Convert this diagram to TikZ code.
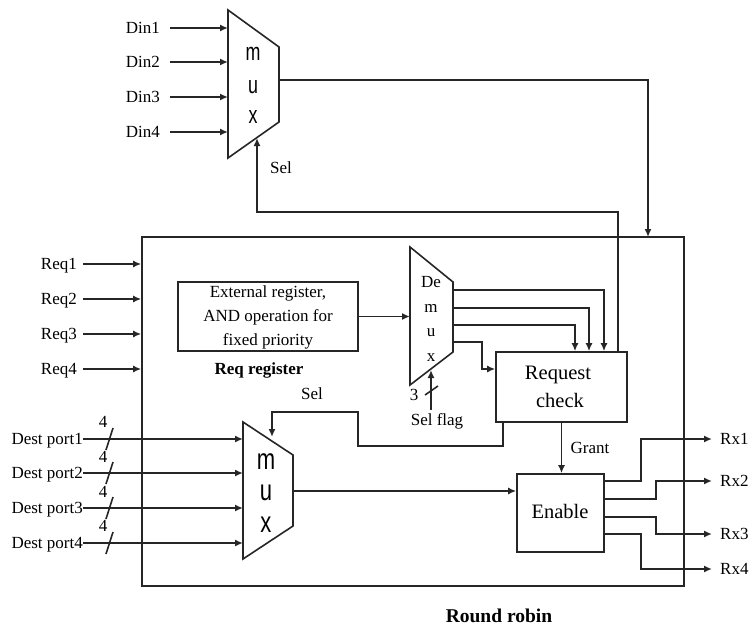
\documentclass[tikz,border=0pt]{standalone}
\usepackage{fontspec}
\setmainfont{Liberation Serif}
\newfontfamily\arialf{Liberation Sans}
\usetikzlibrary{arrows.meta,calc}
\begin{document}
\begin{tikzpicture}[x=1pt,y=-1pt,
  wire/.style={draw=black!85, line width=1.6pt},
  arr/.style={wire,-{Latex[length=8pt,width=7pt]}},
  lbl/.style={font=\fontsize{17}{18}\selectfont, inner sep=0pt, text height=11pt, text depth=0pt},
  txt/.style={font=\fontsize{17}{18}\selectfont, inner sep=0pt, anchor=base},
  boldtxt/.style={font=\fontsize{17}{18}\selectfont\bfseries, inner sep=0pt, anchor=base},
  blk/.style={draw=black!85, line width=1.6pt, inner sep=0pt},
  muxshape/.style={draw=black!85, line width=1.6pt, line join=miter},
  muxletter/.style={inner sep=0pt, anchor=base}]
\useasboundingbox (0,0) rectangle (750,626);

% ---------- top mux ----------
\coordinate (tmA) at (228,10);
\coordinate (tmB) at (279,47);
\coordinate (tmC) at (279,122);
\coordinate (tmD) at (228,158);
\draw[muxshape] (tmA) -- (tmB) -- (tmC) -- (tmD) -- cycle;
\node[muxletter] (tmm) at (253,61) {\scalebox{1.05}[1.45]{\fontsize{17}{18}\arialf m}};
\node[muxletter] (tmu) at (253,93) {\scalebox{1.05}[1.45]{\fontsize{17}{18}\arialf u}};
\node[muxletter] (tmx) at (253,123) {\scalebox{1.05}[1.45]{\fontsize{17}{18}\arialf x}};
\coordinate (tmsel) at (257,138);
\coordinate (tmout) at (279,80);

\foreach \i/\y in {1/28,2/62,3/97,4/132}{
  \node[lbl, anchor=east] (din\i) at (160,\y) {Din\i};
  \draw[arr] ([xshift=10pt]din\i.east) -- (din\i.east -| tmA);
}
\node[txt] (sel1) at (281,173) {Sel};

% ---------- outer round robin box ----------
\node[blk, minimum width=542pt, minimum height=349pt] (rr) at (413,411.5) {};
\coordinate (rrin) at (648,237);
\draw[arr] (tmout) -| (rrin);

\foreach \i/\y in {1/264,2/299,3/334,4/369}{
  \node[lbl, anchor=east] (req\i) at (77,\y) {Req\i};
  \draw[arr] ([xshift=6pt]req\i.east) -- (req\i.east -| rr.west);
}

% ---------- external register ----------
\node[blk, minimum width=180pt, minimum height=69pt] (ext) at (268,316.5) {};
\node[txt] (ext1) at (268,297) {External register,};
\node[txt] (ext2) at (268,321) {AND operation for};
\node[txt] (ext3) at (268,345) {fixed priority};
\node[boldtxt] (reqreg) at (259,374) {Req register};

% ---------- demux ----------
\coordinate (dmA) at (410,247);
\coordinate (dmB) at (453,282);
\coordinate (dmC) at (453,352);
\coordinate (dmD) at (410,385);
\draw[muxshape] (dmA) -- (dmB) -- (dmC) -- (dmD) -- cycle;
\node[txt] (dmde) at (431,287) {De};
\node[txt] (dmm) at (431,312) {m};
\node[txt] (dmu) at (431,336) {u};
\node[txt] (dmx) at (431,361) {x};
\draw[arr] (ext.east) -- (ext.east -| dmA);

% ---------- request check ----------
\node[blk, minimum width=131pt, minimum height=70pt] (rc) at (561.5,387) {};
\node[font=\fontsize{20.5}{22}\selectfont, inner sep=0pt, anchor=base] (rct1) at (558,379) {Request};
\node[font=\fontsize{20.5}{22}\selectfont, inner sep=0pt, anchor=base] (rct2) at (560,407) {check};

\coordinate (do1) at (453,290);
\coordinate (do2) at (453,308);
\coordinate (do3) at (453,325);
\coordinate (do4) at (453,342);
\draw[arr] (do1) -| ([xshift=42.5pt]rc.north);
\draw[arr] (do2) -| ([xshift=27.5pt]rc.north);
\draw[arr] (do3) -| ([xshift=13.5pt]rc.north);
\draw[arr] (do4) -- (482,342) |- ([yshift=18pt]rc.west);

% sel flag
\coordinate (dmsel) at (431,370);
\coordinate (sfbot) at (431,410);
\draw[arr] (sfbot) -- (dmsel);
\draw[wire] (438,386) -- (425,395);
\node[txt] (three) at (414,400) {3};
\node[txt] (selflag) at (437,425) {Sel flag};

% sel to top mux
\coordinate (selc) at (257,212);
\draw[arr] ([xshift=56.5pt]rc.north) |- (selc) -- (tmsel);

% ---------- bottom mux ----------
\coordinate (bmA) at (243,422);
\coordinate (bmB) at (293,455);
\coordinate (bmC) at (293,526);
\coordinate (bmD) at (243,559);
\draw[muxshape] (bmA) -- (bmB) -- (bmC) -- (bmD) -- cycle;
\node[muxletter] (bmm) at (266,469) {\scalebox{1.05}[1.4]{\fontsize{21}{22}\arialf m}};
\node[muxletter] (bmu) at (266,500) {\scalebox{1.05}[1.4]{\fontsize{21}{22}\arialf u}};
\node[muxletter] (bmx) at (266,532) {\scalebox{1.05}[1.4]{\fontsize{21}{22}\arialf x}};
\coordinate (bmsel) at (272,437);
\coordinate (bmout) at (293,491);

\draw[arr] ([xshift=-58.5pt]rc.south) |- (358,446) |- (bmsel |- 0,412) -- (bmsel);
\node[txt] (sel2) at (312,399) {Sel};

\foreach \i/\y/\ty in {1/439/427,2/473/462,3/508/497,4/543/531}{
  \node[lbl, anchor=east] (dp\i) at (83,\y) {Dest port\i};
  \draw[arr] (dp\i.east) -- (dp\i.east -| bmA);
  \draw[wire] (113,\y-11) -- (106,\y+11);
  \node[txt] (w\i) at (103,\ty) {4};
}

% ---------- enable ----------
\node[blk, minimum width=87pt, minimum height=78pt] (en) at (560.5,513) {};
\node[font=\fontsize{20.5}{22}\selectfont, inner sep=0pt, anchor=base] (ent) at (560,518) {Enable};
\draw[arr] (bmout) -- (bmout -| en.west);
\draw[arr] (rc.south) -- (rc.south |- en.north);
\node[txt] (grant) at (590,453) {Grant};

\foreach \i/\y in {1/439,2/481,3/534,4/569}{
  \node[lbl, anchor=west] (rx\i) at (720,\y) {Rx\i};
}
\coordinate (eo1) at (604,481);
\coordinate (eo2) at (604,499);
\coordinate (eo3) at (604,517);
\coordinate (eo4) at (604,534);
\draw[arr] (eo1) -- (641,481) |- ([xshift=-8pt]rx1.west);
\draw[arr] (eo2) -- (656,499) |- ([xshift=-8pt]rx2.west);
\draw[arr] (eo3) -- (656,517) |- ([xshift=-8pt]rx3.west);
\draw[arr] (eo4) -- (641,534) |- ([xshift=-8pt]rx4.west);

\node[font=\fontsize{19.5}{21}\selectfont\bfseries, inner sep=0pt, anchor=base] (rrlbl) at (499,622) {Round robin};
\end{tikzpicture}
\end{document}
